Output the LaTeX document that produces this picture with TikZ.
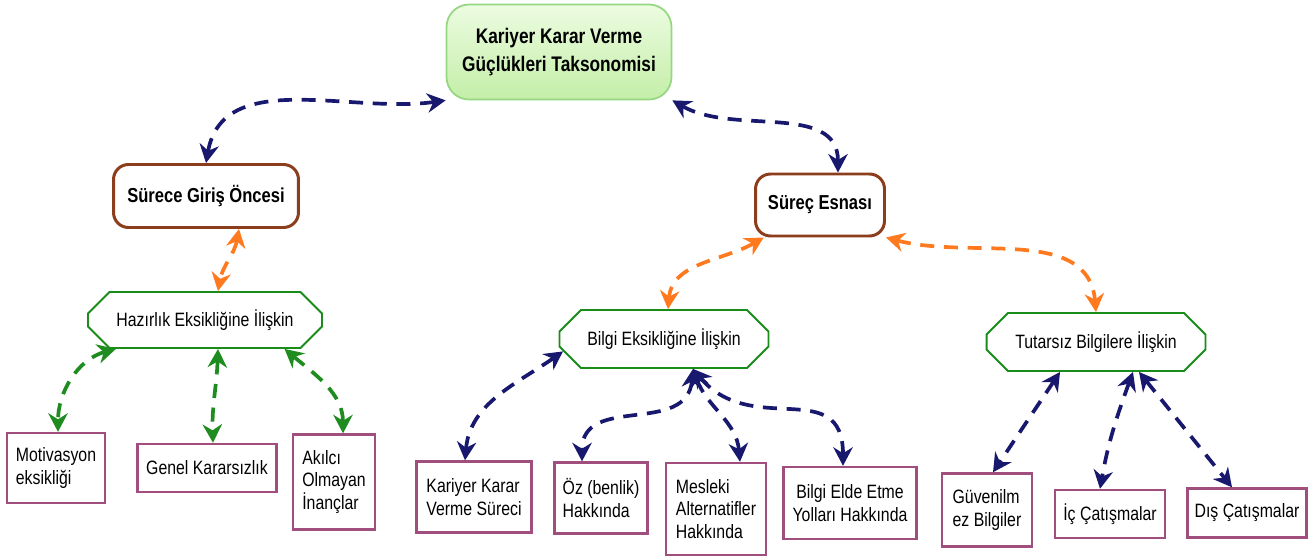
\documentclass[tikz,border=0pt]{standalone}
\usepackage{fontspec}
\setmainfont[FakeStretch=0.82]{Liberation Sans}
\usetikzlibrary{arrows.meta,shapes.misc}

\definecolor{navyline}{RGB}{24,24,110}
\definecolor{orangeline}{RGB}{255,122,30}
\definecolor{greenline}{RGB}{30,140,30}
\definecolor{octgreen}{RGB}{25,140,25}
\definecolor{brownline}{RGB}{140,62,28}
\definecolor{plumline}{RGB}{160,78,125}
\definecolor{rootedge}{RGB}{150,215,130}
\definecolor{roottop}{RGB}{236,252,225}
\definecolor{rootbot}{RGB}{196,238,168}

\tikzset{
  rootbox/.style={draw=rootedge, line width=1pt, rounded corners=0.45cm, top color=roottop, bottom color=rootbot,
    font=\fontsize{12}{15.5}\selectfont\bfseries, align=center},
  phasebox/.style={draw=brownline, line width=1.7pt, rounded corners=0.3cm, fill=white,
    font=\fontsize{11.5}{14}\selectfont\bfseries},
  groupbox/.style={chamfered rectangle, chamfered rectangle xsep=0.9cm, chamfered rectangle ysep=0.22cm,
    draw=octgreen, line width=1.1pt, fill=white, font=\fontsize{11}{13}\selectfont, inner sep=0pt},
  leafbox/.style={draw=plumline, line width=1.4pt, fill=white, font=\fontsize{11}{13}\selectfont, align=left, inner sep=0pt},
  link/.style={dash pattern=on 8pt off 5.5pt, line width=2.1pt, {Stealth[length=10.5pt,width=11pt]}-{Stealth[length=10.5pt,width=11pt]}},
  navylink/.style={link, draw=navyline},
  orangelink/.style={link, draw=orangeline},
  greenlink/.style={link, draw=greenline},
}

\begin{document}
\begin{tikzpicture}[x=0.02cm, y=-0.02cm]
  \useasboundingbox[fill=white] (0,0) rectangle (1311,557);

  % root and the two phases
  \node[rootbox, minimum width=4.5cm, minimum height=1.9cm] (root) at (559,52) {Kariyer Karar Verme\\Güçlükleri Taksonomisi};
  \node[phasebox, minimum width=3.7cm, minimum height=1.26cm] (sgo) at (206,196) {Sürece Giriş Öncesi};
  \node[phasebox, minimum width=2.58cm, minimum height=1.24cm] (sesn) at (820,205) {Süreç Esnası};

  % groups
  \node[groupbox, minimum width=4.68cm, minimum height=1.12cm] (haz) at (205,320) {Hazırlık Eksikliğine İlişkin};
  \node[groupbox, minimum width=4.18cm, minimum height=1.16cm] (bilgi) at (664,339) {Bilgi Eksikliğine İlişkin};
  \node[groupbox, minimum width=4.38cm, minimum height=1.16cm] (tut) at (1096,342) {Tutarsız Bilgilere İlişkin};

  % leaves
  \node[leafbox, minimum width=1.96cm, minimum height=1.4cm] (mot) at (56,468) {Motivasyon\\eksikliği};
  \node[leafbox, minimum width=2.78cm, minimum height=0.96cm] (genel) at (207,468) {Genel Kararsızlık};
  \node[leafbox, minimum width=1.64cm, minimum height=1.9cm] (akilci) at (334,482) {Akılcı\\Olmayan\\İnançlar};
  \node[leafbox, minimum width=2.3cm, minimum height=1.42cm] (kkvs) at (474,497) {Kariyer Karar\\Verme Süreci};
  \node[leafbox, minimum width=1.86cm, minimum height=1.42cm] (oz) at (601,498) {Öz (benlik)\\Hakkında};
  \node[leafbox, minimum width=2.0cm, minimum height=1.84cm] (mesl) at (716,509) {Mesleki\\Alternatifler\\Hakkında};
  \node[leafbox, align=center, minimum width=2.66cm, minimum height=1.44cm] (bed) at (850,503) {Bilgi Elde Etme\\Yolları Hakkında};
  \node[leafbox, minimum width=1.8cm, minimum height=1.46cm] (guv) at (987,510) {Güvenilm\\ez Bilgiler};
  \node[leafbox, minimum width=2.2cm, minimum height=0.96cm] (ic) at (1110,514) {İç Çatışmalar};
  \node[leafbox, minimum width=2.38cm, minimum height=0.98cm] (dis) at (1247,513) {Dış Çatışmalar};

  % root links
  \draw[navylink] (sgo.north) to[out=80,in=188] (root.south west);
  \draw[navylink] (root.south east) to[out=-30,in=90] ([xshift=0.36cm]sesn.north);

  % phase links
  \draw[orangelink] (sgo.-45) to[out=-100,in=80] ([xshift=0.26cm]haz.north);
  \draw[orangelink] (sesn.-150) to[out=-150,in=85] ([xshift=0.08cm]bilgi.north);
  \draw[orangelink] (sesn.south east) to[out=-15,in=95] (tut.north);

  % readiness
  \draw[greenlink] (haz.-162) to[out=-165,in=90] ([xshift=0.04cm]mot.north);
  \draw[greenlink] ([xshift=0.26cm]haz.south) to[out=-92,in=92] ([xshift=0.12cm]genel.north);
  \draw[greenlink] (haz.-20) to[out=-40,in=90] ([xshift=0.18cm]akilci.north);

  % lack of information
  \draw[navylink] (bilgi.-173) to[out=-145,in=85] ([xshift=-0.18cm]kkvs.north);
  \draw[navylink] ([xshift=0.58cm]bilgi.south) to[out=-95,in=90,looseness=1.2] ([xshift=-0.38cm]oz.north);
  \draw[navylink] ([xshift=0.58cm]bilgi.south) to[out=-70,in=95] ([xshift=0.48cm]mesl.north);
  \draw[navylink] ([xshift=0.58cm]bilgi.south) to[out=-50,in=90,looseness=1.3] ([xshift=-0.14cm]bed.north);

  % inconsistent information
  \draw[navylink] ([xshift=-0.72cm]tut.south) -- ([xshift=0.12cm]guv.north);
  \draw[navylink] ([xshift=0.74cm]tut.south) to[out=-110,in=80] ([xshift=-0.2cm]ic.north);
  \draw[navylink] ([xshift=0.86cm]tut.south) -- ([xshift=-0.3cm]dis.north);
\end{tikzpicture}
\end{document}
